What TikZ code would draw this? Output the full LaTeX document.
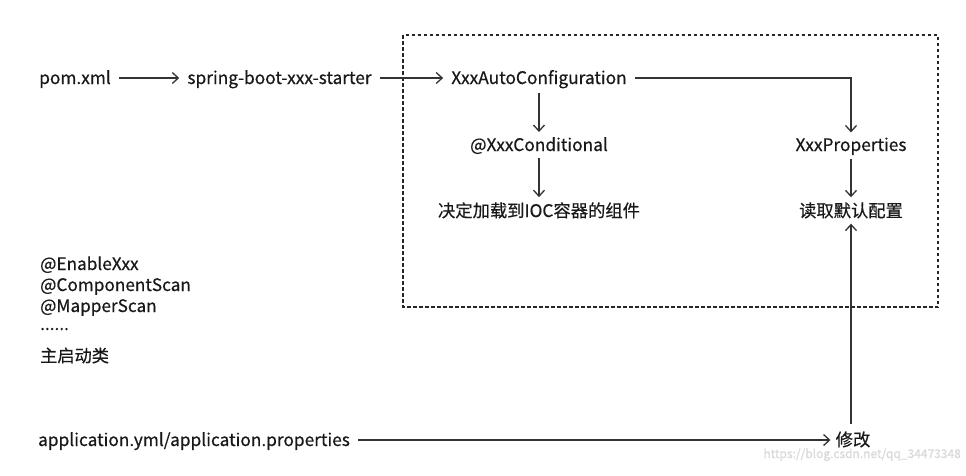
\documentclass[tikz,border=0pt]{standalone}
\usepackage{fontspec}
\setmainfont{Noto Sans CJK SC}[FakeBold=0.5]
\usetikzlibrary{arrows.meta}
\begin{document}
\begin{tikzpicture}[x=1pt,y=-1pt,
  lbl/.style={font=\fontsize{17.3}{20}\selectfont, text=black!90, inner sep=2pt, anchor=base},
  lst/.style={font=\fontsize{17.2}{20}\selectfont, text=black!90, inner sep=0pt, anchor=base west},
  arr/.style={draw=black!80, line width=1.4pt, -{Straight Barb[length=6pt,width=11pt,line width=1.3pt]}},
  frame/.style={draw=black!85, line width=1.2pt, dash pattern=on 3.5pt off 2.5pt}]
\useasboundingbox (0,0) rectangle (966,475);
\fill[white] (0,0) rectangle (966,475);
% dashed frame
\draw[frame] (403,35) rectangle (938,307);
% main row
\node[lbl] (pom) at (75,84) {pom.xml};
\node[lbl] (starter) at (279.5,84) {spring-boot-xxx-starter};
\node[lbl] (auto) at (539,84) {XxxAutoConfiguration};
\node[lbl] (cond) at (539,151) {@XxxConditional};
\node[lbl] (comp) at (539,217) {决定加载到IOC容器的组件};
\node[lbl] (prop) at (851,151) {XxxProperties};
\node[lbl] (read) at (851,217) {读取默认配置};
\node[lbl] (app) at (194,446) {application.yml/application.properties};
\node[lbl] (mod) at (853,446) {修改};
% list
\node[lst] (l1) at (40,270) {@EnableXxx};
\node[lst] (l2) at (40,291) {@ComponentScan};
\node[lst] (l3) at (40,312) {@MapperScan};
\node[lst] (l4) at (40,330) {......};
\node[lst] (l5) at (40,362) {主启动类};
% watermark
\node[font=\fontsize{12}{14}\selectfont, text=black!15, anchor=base east, inner sep=0pt] (wm) at (961,458) {https://blog.csdn.net/qq\_34473348};
% arrows
\coordinate (a1s) at (120,78); \coordinate (a1e) at (175,78);
\coordinate (modtop) at (851,424);
\draw[arr] (pom.east |- a1s) ++(6,0) -- ([xshift=-6pt]starter.west |- a1e);
\draw[arr] ([xshift=6pt]starter.east |- a1s) -- ([xshift=-6pt]auto.west |- a1e);
\draw[arr] ([yshift=-2pt]auto.south) -- ([yshift=3pt]cond.north);
\draw[arr] ([yshift=-2pt]cond.south) -- ([yshift=3pt]comp.north);
\draw[arr] ([xshift=6pt]auto.east |- a1s) -| ([yshift=3pt]prop.north);
\draw[arr] ([yshift=-2pt]prop.south) -- ([yshift=3pt]read.north);
\draw[arr] ([xshift=6pt]app.east |- 0,440) -- ([xshift=-3pt]mod.west |- 0,440);
\draw[arr] (modtop) -- ([yshift=-3pt]read.south);
\end{tikzpicture}
\end{document}
